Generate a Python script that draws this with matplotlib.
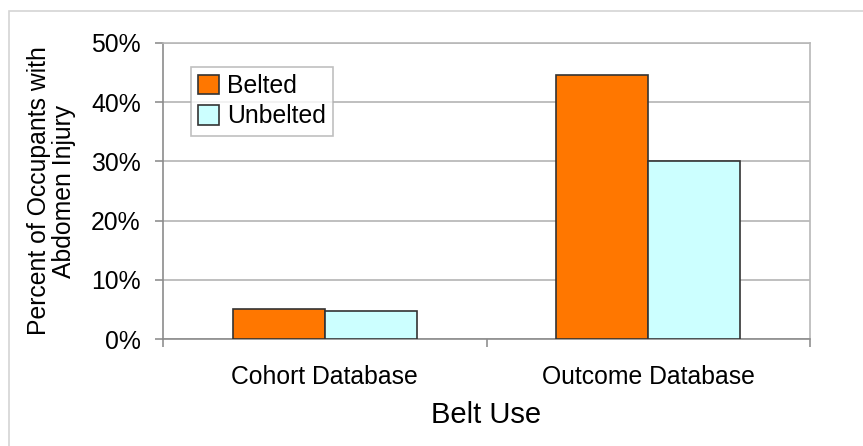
import matplotlib
matplotlib.use("Agg")
import matplotlib.pyplot as plt
from matplotlib.patches import Rectangle
from matplotlib.ticker import FuncFormatter
import numpy as np

plt.rcParams['font.family'] = ['Liberation Sans', 'DejaVu Sans']

databases = ["Cohort Database", "Outcome Database"]
belted = [5.15, 44.6]
unbelted = [4.8, 30.0]
series_names = ["Belted", "Unbelted"]

fig = plt.figure(figsize=(8.63, 4.46), dpi=100)
ax = fig.add_axes([0.1889, 0.2399, 0.7497, 0.6637])

# light frame round the whole chart
fig.patches.append(Rectangle((9 / 863, -0.5), 2.0, 1.5 - 11 / 446,
                             transform=fig.transFigure, fill=False,
                             edgecolor="#d4d4d4", linewidth=1.2))

x = np.arange(len(databases))
w = 0.285
ax.bar(x - w / 2, belted, w, color="#ff7700", edgecolor="#333333",
       linewidth=1.2, label=series_names[0], zorder=3)
ax.bar(x + w / 2, unbelted, w, color="#ccffff", edgecolor="#333333",
       linewidth=1.2, label=series_names[1], zorder=3)

ax.set_xlim(-0.5, 1.5)
ax.set_ylim(0, 50)
ax.set_yticks(np.arange(0, 51, 10))
ax.yaxis.set_major_formatter(FuncFormatter(lambda v, p: f"{v:.0f}%"))
ax.grid(axis="y", color="#b4b4b4", linewidth=1.2, zorder=0)

# boundary ticks between categories, labels at the centres
ax.set_xticks([-0.5, 0.5, 1.5])
ax.set_xticklabels([])
ax.set_xticks(x, minor=True)
ax.set_xticklabels(databases, minor=True)
ax.tick_params(axis="x", which="minor", length=0, pad=19, labelsize=17.8)
ax.tick_params(axis="x", which="major", length=6, color="#909090", width=1.2)
ax.tick_params(axis="y", length=6, color="#909090", width=1.2, pad=10,
               labelsize=17.8)

for side in ["left", "bottom"]:
    ax.spines[side].set_color("#8c8c8c")
    ax.spines[side].set_linewidth(1.2)
for side in ["top", "right"]:
    ax.spines[side].set_color("#b8b8b8")
    ax.spines[side].set_linewidth(1.2)

ax.set_ylabel("Percent of Occupants with\nAbdomen Injury", fontsize=17.8,
              linespacing=1.05)
ax.yaxis.set_label_coords(-0.135, 0.5)
ax.set_xlabel("Belt Use", fontsize=21)
ax.xaxis.set_label_coords(0.5, -0.21)

leg = ax.legend(loc="upper left", bbox_to_anchor=(0.043, 0.92),
                borderaxespad=0, fancybox=False, fontsize=17.8,
                handlelength=0.85, handleheight=0.85, handletextpad=0.3,
                labelspacing=0.25, borderpad=0.3)
leg.get_frame().set_edgecolor("#b0b0b0")
leg.get_frame().set_linewidth(1.2)

fig.savefig("out.png", dpi=100)
